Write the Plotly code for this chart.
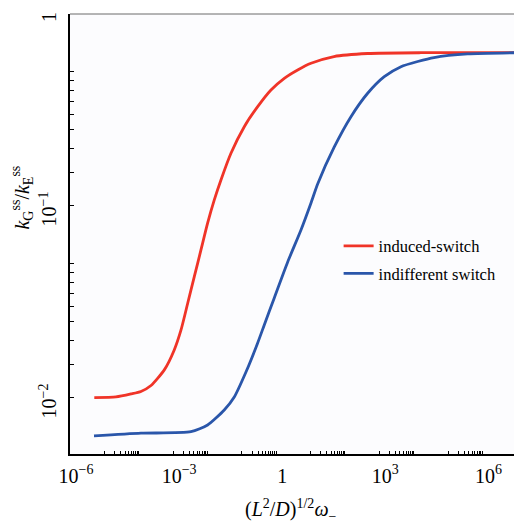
import plotly.graph_objects as go

# ---- data (log-log) ----
red_x = [5.09e-6, 2.18e-5, 5.96e-5, 1.16e-4, 2.28e-4, 5.55e-4, 1.08e-3, 1.70e-3,
         2.66e-3, 4.14e-3, 6.47e-3, 1.01e-2, 1.58e-2, 2.47e-2, 4.83e-2, 0.1178,
         0.289, 0.705, 1.72, 4.22, 10.3, 48.0, 459, 1.63e4, 1e7]
red_y = [0.01004, 0.01012, 0.01049, 0.01081, 0.01161, 0.01400, 0.01778, 0.02261,
         0.03113, 0.04285, 0.0590, 0.0813, 0.1075, 0.1366, 0.1881, 0.2588,
         0.3290, 0.4018, 0.4625, 0.5109, 0.5536, 0.6006, 0.6226, 0.6285, 0.6285]

blue_x = [4.99e-6, 1.16e-4, 3.31e-3, 1.01e-2, 3.08e-2, 6.03e-2, 0.132, 0.289,
          0.450, 0.879, 2.16, 5.26, 10.3, 16.1, 49.0, 150, 459, 1396, 4276,
          1.31e4, 3.90e4, 3.72e5, 1e7]
blue_y = [0.00634, 0.00655, 0.00667, 0.00723, 0.00866, 0.01012, 0.01365, 0.01934,
          0.0240, 0.0332, 0.0511, 0.0750, 0.1037, 0.1302, 0.2029, 0.2918, 0.3864,
          0.4714, 0.5316, 0.5657, 0.5933, 0.6192, 0.6285]

series_names = ["induced-switch", "indifferent switch"]

# ---- ticks ----
x_label_vals = [1e-6, 1e-3, 1, 1e3, 1e6]
x_label_text = ["10<sup>−6</sup>", "10<sup>−3</sup>", "1", "10<sup>3</sup>", "10<sup>6</sup>"]
x_minor_decades = [-5, -3, -1, 1, 3, 5]

y_label_vals = [1, 0.1, 0.01]
y_label_text = ["1", "10<sup>−1</sup>", "10<sup>−2</sup>"]
y_minor_mult = [0.5, 0.45, 0.4, 0.35, 0.3, 0.25, 0.2, 0.15]

x_minor_vals = sorted({round(k * 10.0 ** d, 12) for d in x_minor_decades for k in range(1, 11)})
y_minor_vals = sorted({round(m * dec, 12) for dec in [1, 0.1] for m in y_minor_mult})

RED = "rgb(240,52,40)"
BLUE = "rgb(42,86,170)"
SERIF = "Liberation Serif, Times New Roman, serif"

fig = go.Figure()
fig.add_trace(go.Scatter(x=red_x, y=red_y, mode="lines", name=series_names[0],
                         legendgroup="a",
                         line=dict(color=RED, width=2.8, shape="spline", smoothing=0.6)))
fig.add_trace(go.Scatter(x=blue_x, y=blue_y, mode="lines", name=series_names[1],
                         legendgroup="b",
                         line=dict(color=BLUE, width=2.8, shape="spline", smoothing=0.6)))

fig.update_layout(
    width=514, height=526,
    margin=dict(l=70, r=0, t=14, b=72, autoexpand=False),
    paper_bgcolor="white",
    plot_bgcolor="#fcfcfe",
    font=dict(family=SERIF, color="black"),
    showlegend=True,
    legend=dict(x=0.605, y=0.512, xanchor="left", yanchor="top",
                bgcolor="rgba(0,0,0,0)", font=dict(family=SERIF, size=16.5, color="black"),
                traceorder="grouped", tracegroupgap=3),
    xaxis=dict(type="log", range=[-6, 6.92], showgrid=False, zeroline=False,
               automargin=False,
               showline=True, linecolor="black", linewidth=1.5,
               ticks="inside", ticklen=3, tickwidth=1, tickcolor="black",
               tickmode="array", tickvals=x_label_vals, ticktext=x_label_text,
               minor=dict(tickmode="array", tickvals=x_minor_vals, ticks="inside",
                          ticklen=3, tickwidth=1, tickcolor="black", showgrid=False),
               tickfont=dict(family=SERIF, size=20, color="black"),
               ticklabelshift=6, ticklabelstandoff=3),
    yaxis=dict(type="log", range=[-2.292, 0], showgrid=False, zeroline=False,
               automargin=False,
               showline=True, linecolor="black", linewidth=1.5,
               ticks="inside", ticklen=4, tickwidth=1, tickcolor="black",
               tickmode="array", tickvals=y_label_vals, ticktext=y_label_text,
               minor=dict(tickmode="array", tickvals=y_minor_vals, ticks="inside",
                          ticklen=4, tickwidth=1, tickcolor="black", showgrid=False),
               tickangle=-90,
               tickfont=dict(family=SERIF, size=20, color="black"),
               ticklabelshift=6, ticklabelstandoff=4),
    shapes=[dict(type="line", xref="paper", yref="paper", x0=0, x1=1, y0=1, y1=1,
                 line=dict(color="#6a6a6a", width=1))],
    annotations=[
        dict(text="(<i>L</i><sup>2</sup>/<i>D</i>)<sup>1/2</sup><i>ω</i><sub>−</sub>",
             xref="paper", yref="paper", x=0.498, y=-0.127, showarrow=False,
             xanchor="center", yanchor="middle",
             font=dict(family=SERIF, size=20, color="black")),
        dict(text="<i>k</i><sub>G</sub><sup>ss</sup>/<i>k</i><sub>E</sub><sup>ss</sup>",
             xref="paper", yref="paper", x=-0.107, y=0.584, showarrow=False,
             textangle=-90, xanchor="center", yanchor="middle",
             font=dict(family=SERIF, size=20, color="black")),
    ],
)

fig.write_html("out.html", config={"displayModeBar": False},
               post_script="document.body.style.margin='0';document.body.style.overflow='hidden';")
